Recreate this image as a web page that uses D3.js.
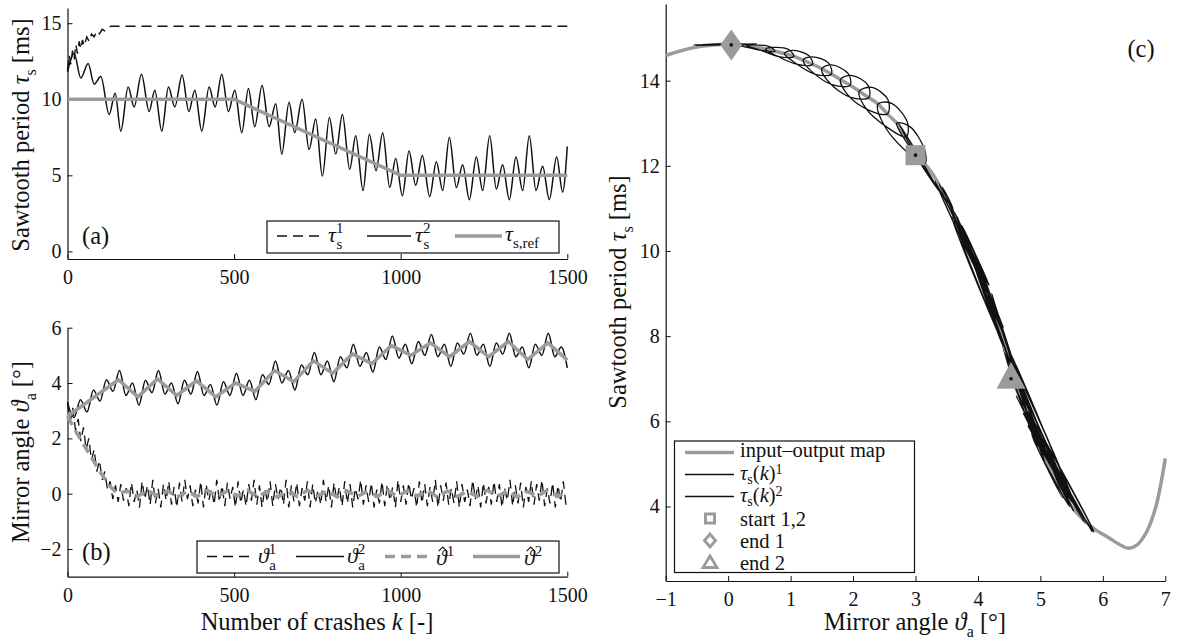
<!DOCTYPE html>
<html>
<head>
<meta charset="utf-8">
<script src="https://cdn.jsdelivr.net/npm/d3@7/dist/d3.min.js"></script>
<style>
  html, body { margin: 0; padding: 0; background: #fff; }
  svg { display: block; }
  svg text { font-family: "Liberation Serif", "DejaVu Serif", serif; }
</style>
</head>
<body>
<svg id="fig" width="1183" height="641"></svg>
<script>
// ---------- (a) sawtooth period vs. number of crashes ----------
const kTicks = [0, 500, 1000, 1500];
const tauTicksA = [0, 5, 10, 15];
const tau1K = [0, 5, 10, 15, 20, 25, 30, 35, 40, 45, 50, 58, 65, 72, 80, 88, 96, 104, 112, 120, 130, 1500];
const tau1V = [11.9, 12.9, 12.3, 13.2, 12.6, 13.6, 13.0, 13.8, 13.3, 13.9, 13.5, 14.1, 13.8, 14.3, 14.1, 14.5, 14.3, 14.6, 14.5, 14.7, 14.8, 14.8];
const tau2K = [0, 20, 40, 62, 80, 100, 125, 143, 160, 182, 200, 222, 245, 262, 283, 303, 322, 344, 364, 382,
  403, 425, 443, 463, 483, 502, 523, 543, 562, 584, 605, 625, 643, 665, 682, 704, 725, 745, 765, 786,
  805, 825, 847, 865, 887, 906, 926, 946, 967, 985, 1005, 1025, 1045, 1065, 1087, 1107, 1126, 1146, 1167, 1186,
  1206, 1227, 1246, 1267, 1287, 1306, 1326, 1346, 1366, 1386, 1406, 1426, 1446, 1468, 1486, 1500];
const tau2V = [11.8, 13.0, 11.4, 12.35, 11.0, 11.5, 9.0, 10.4, 7.9, 10.8, 9.5, 11.65, 9.2, 10.6, 7.9, 10.8, 9.5, 11.6, 9.2, 10.6,
  7.9, 10.8, 9.5, 11.65, 9.2, 10.6, 7.8, 10.7, 8.2, 10.9, 8.2, 9.7, 6.4, 9.8, 7.8, 10.0, 6.7, 8.7, 4.95, 8.8,
  6.4, 9.0, 5.4, 7.6, 4.0, 7.7, 5.3, 7.8, 4.2, 6.1, 3.65, 6.6, 4.35, 6.3, 3.6, 5.9, 4.0, 7.5, 4.2, 5.7,
  3.4, 6.2, 4.0, 7.6, 4.1, 5.7, 3.4, 6.2, 4.0, 7.6, 4.0, 5.6, 3.4, 6.2, 3.9, 6.9];
const tauRefK = [0, 500, 1000, 1500];
const tauRefV = [10, 10, 5, 5];

// ---------- (b) mirror angle vs. number of crashes ----------
const thetaTicksB = [-2, 0, 2, 4, 6];
const theta1Step = 8; // crashes between consecutive samples of theta1V
const theta1V = [3.3, 2.6, 3.1, 2.3, 2.7, 1.9, 2.4, 1.6, 2.0, 1.2, 1.6, 0.8, 1.2, 0.5, 0.8, 0.15, 0.45, -0.2, 0.3, -0.3,
  0.35, -0.25, 0.2, -0.45, 0.4, -0.3, 0.15, -0.5, 0.45, -0.2, 0.3, -0.4, 0.5, -0.35, 0.2, -0.5, 0.35, -0.25, 0.45, -0.4,
  0.25, -0.5, 0.4, -0.3, 0.5, -0.2, 0.3, -0.45, 0.15, -0.35, 0.45, -0.5, 0.35, -0.25, 0.2, -0.4, 0.5, -0.3, 0.3, -0.45,
  0.4, -0.2, 0.25, -0.5, 0.45, -0.35, 0.15, -0.45, 0.35, -0.25, 0.5, -0.4, 0.3, -0.5, 0.2, -0.3, 0.45, -0.45, 0.35, -0.2,
  0.25, -0.4, 0.5, -0.5, 0.3, -0.3, 0.4, -0.45, 0.2, -0.25, 0.45, -0.5, 0.35, -0.35, 0.15, -0.4, 0.5, -0.3, 0.3, -0.5,
  0.4, -0.25, 0.25, -0.45, 0.45, -0.35, 0.35, -0.5, 0.2, -0.2, 0.5, -0.4, 0.3, -0.3, 0.4, -0.5, 0.15, -0.35, 0.45, -0.45,
  0.35, -0.25, 0.25, -0.5, 0.5, -0.3, 0.3, -0.4, 0.4, -0.2, 0.2, -0.5, 0.45, -0.35, 0.35, -0.45, 0.25, -0.3, 0.5, -0.5,
  0.3, -0.25, 0.4, -0.4, 0.2, -0.35, 0.45, -0.5, 0.35, -0.3, 0.15, -0.45, 0.5, -0.2, 0.3, -0.5, 0.4, -0.35, 0.25, -0.4,
  0.45, -0.3, 0.35, -0.5, 0.2, -0.25, 0.5, -0.45,
  0.3, -0.35, 0.4, -0.5, 0.25, -0.3, 0.45, -0.4, 0.35, -0.25, 0.5, -0.45, 0.2, -0.35, 0.4, -0.5, 0.3, -0.3, 0.45, -0.4];
const theta2K = [0, 19.5, 39, 58.5, 78, 97.5, 117, 136.5, 156, 175.5, 195, 214.5, 234, 253.5, 273, 292.5, 312, 331.5, 351, 370.5,
  390, 409.5, 429, 448.5, 468, 487.5, 507, 526.5, 546, 565.5, 585, 604.5, 624, 643.5, 663, 682.5, 702, 721.5, 741, 760.5,
  780, 799.5, 819, 838.5, 858, 877.5, 897, 916.5, 936, 955.5, 975, 994.5, 1014, 1033.5, 1053, 1072.5, 1092, 1111.5, 1131, 1150.5,
  1170, 1189.5, 1209, 1228.5, 1248, 1267.5, 1287, 1306.5, 1326, 1345.5, 1365, 1384.5, 1404, 1423.5, 1443, 1462.5, 1482, 1500];
const theta2V = [3.3, 2.75, 3.4, 2.95, 3.75, 3.35, 4.12, 3.7, 4.45, 3.55, 4.0, 3.2, 4.1, 3.65, 4.45, 3.6, 4.0, 3.25, 4.1, 3.6,
  4.42, 3.55, 3.95, 3.2, 4.05, 3.55, 4.35, 3.55, 4.1, 3.4, 4.3, 3.95, 4.8, 4.0, 4.45, 3.75, 4.65, 4.3, 5.1, 4.3,
  4.8, 4.05, 4.95, 4.55, 5.4, 4.6, 5.1, 4.4, 5.3, 4.85, 5.7, 4.9, 5.4, 4.7, 5.5, 5.0, 5.75, 4.95, 5.4, 4.6,
  5.45, 5.05, 5.8, 5.0, 5.4, 4.6, 5.45, 5.05, 5.8, 4.95, 5.3, 4.55, 5.4, 5.0, 5.8, 4.95, 5.3, 4.55];
const hatTheta1K = [0, 25, 50, 75, 100, 125, 150, 180, 210, 240, 270, 300, 330, 360, 390, 420, 450, 480, 510, 540, 570,
  600, 630, 660, 690, 720, 750, 780, 810, 840, 870, 900, 930, 960, 990, 1020, 1050, 1080, 1110, 1140, 1170,
  1200, 1230, 1260, 1290, 1320, 1350, 1380, 1410, 1440, 1470, 1500];
const hatTheta1V = [2.8, 2.25, 1.75, 1.25, 0.75, 0.3, 0.0, 0.1, -0.1, 0.12, -0.08, 0.1, -0.12, 0.08, -0.1, 0.12, -0.1, 0.1, -0.08, 0.12, -0.1,
  0.08, -0.12, 0.1, -0.1, 0.12, -0.08, 0.1, -0.12, 0.1, -0.1, 0.08, -0.1, 0.12, -0.1, 0.1, -0.08, 0.12, -0.12, 0.1, -0.1,
  0.08, -0.1, 0.12, -0.1, 0.1, -0.12, 0.08, -0.1, 0.12, -0.1, 0.05];
const hatTheta2K = [0, 153, 211, 270, 328, 387, 445, 504, 562, 621, 679, 738, 796, 855, 913, 972, 1030, 1089, 1147, 1206, 1264, 1323, 1381, 1442, 1500];
const hatTheta2V = [2.8, 4.12, 3.5, 4.15, 3.55, 4.08, 3.5, 4.0, 3.7, 4.45, 4.05, 4.8, 4.35, 5.05, 4.7, 5.35, 5.0, 5.45, 4.95, 5.5, 4.95, 5.5, 4.85, 5.45, 4.83];

// ---------- (c) sawtooth period vs. mirror angle ----------
const thetaTicksC = [-1, 0, 1, 2, 3, 4, 5, 6, 7];
const tauTicksC = [4, 6, 8, 10, 12, 14];
const mapTheta = [-1, -0.6, -0.2, 0.05, 0.3, 0.5, 0.75, 1.0, 1.25, 1.5, 1.75, 2.0, 2.2, 2.4, 2.55, 2.7, 2.85, 3.0, 3.15, 3.3,
  3.6, 3.9, 4.1, 4.3, 4.45, 4.56, 4.7, 4.82, 5.0, 5.2, 5.4, 5.6, 5.84, 6.1, 6.3, 6.41, 6.55, 6.7, 6.85, 7.0];
const mapTau = [14.59, 14.76, 14.84, 14.86, 14.82, 14.78, 14.69, 14.6, 14.45, 14.28, 14.07, 13.85, 13.65, 13.45, 13.22, 13.0, 12.68, 12.35, 12.05, 11.75,
  10.9, 10.0, 9.3, 8.5, 7.7, 7.0, 6.45, 6.03, 5.35, 4.75, 4.2, 3.82, 3.5, 3.26, 3.08, 3.02, 3.1, 3.4, 4.0, 5.13];
// trajectory 1: looping band from the start towards end 1, then jitter around end 1
const traj1Theta = [3.0, 2.70, 2.91, 3.15, 3.15, 2.845, 2.48, 2.40, 2.61, 2.87, 2.85, 2.53, 2.20, 2.10, 2.30, 2.56, 2.55, 2.25, 1.92,
  1.80, 1.98, 2.24, 2.25, 1.965, 1.63, 1.50, 1.66, 1.925, 1.95, 1.68, 1.35, 1.20, 1.345, 1.61, 1.65, 1.395, 1.07,
  0.90, 1.03, 1.29, 1.35, 1.11, 0.78, 0.60, 0.71, 0.97, 1.05, 0.83, 0.49, 0.30, 0.405, 0.66, 0.75, 0.54, 0.20,
  0.05, -0.45, 0.4, -0.5, 0.45, -0.35, 0.3, -0.55, 0.35, 0.05];
const traj1Tau = [12.25, 13.00, 12.92, 12.36, 12.05, 12.35, 13.00, 13.45, 13.47, 13.02, 12.68, 12.92, 13.36, 13.75, 13.84, 13.55, 13.22, 13.31, 13.66,
  14.03, 14.12, 13.89, 13.60, 13.61, 13.94, 14.28, 14.37, 14.16, 13.89, 13.90, 14.20, 14.48, 14.56, 14.41, 14.15, 14.15, 14.42,
  14.64, 14.71, 14.59, 14.38, 14.38, 14.58, 14.74, 14.78, 14.73, 14.57, 14.56, 14.73, 14.82, 14.84, 14.80, 14.69, 14.71, 14.815,
  14.86, 14.84, 14.85, 14.83, 14.86, 14.84, 14.86, 14.84, 14.85, 14.85];
// trajectory 2: back and forth along the map, drifting towards end 2
const traj2Theta = [3.0, 2.73, 3.38, 2.95, 3.6, 3.43, 4.14, 3.72, 4.45, 3.66, 3.99, 3.31, 4.17, 3.74, 4.38, 3.58, 4.09, 3.37, 4.09, 3.66,
  4.46, 3.67, 4.0, 3.31, 4.18, 3.73, 4.4, 3.62, 4.41, 3.63, 4.32, 3.94, 4.76, 4.0, 4.39, 3.86, 4.69, 4.28, 5.09, 4.18,
  4.76, 4.22, 4.95, 4.43, 5.55, 4.48, 4.97, 4.39, 5.45, 4.84, 5.69, 4.61, 5.4, 4.77, 5.72, 4.8, 5.56, 4.51, 5.36, 4.86,
  5.85, 4.81, 5.47, 4.43, 5.5, 4.94, 5.83, 4.72, 5.56, 4.5, 5.47, 4.88, 5.86, 4.81, 5.53, 4.53];
const traj2Tau = [12.25, 13.0, 11.4, 12.35, 11.0, 11.5, 9.0, 10.4, 7.9, 10.8, 9.5, 11.65, 9.2, 10.6, 7.9, 10.8, 9.5, 11.6, 9.2, 10.6,
  7.9, 10.8, 9.5, 11.65, 9.2, 10.6, 7.8, 10.7, 8.2, 10.9, 8.2, 9.7, 6.4, 9.8, 7.8, 10.0, 6.7, 8.7, 4.95, 8.8,
  6.4, 9.0, 5.4, 7.6, 4.0, 7.7, 5.3, 7.8, 4.2, 6.1, 3.65, 6.6, 4.35, 6.3, 3.6, 5.9, 4.0, 7.5, 4.2, 5.7,
  3.4, 6.2, 4.0, 7.6, 4.1, 5.7, 3.4, 6.2, 4.0, 7.6, 4.0, 5.6, 3.4, 6.2, 3.9, 7.0];
const startPoint = [3.0, 12.25];
const end1Point = [0.05, 14.84];
const end2Point = [4.53, 7.0];

// ---------- drawing ----------
const FONT = "Liberation Serif, DejaVu Serif, serif";
const GRAY = "#9b9b9b";
const INK = "#111";
const TICK_PX = 20, LABEL_PX = 24.5, LEG_PX = 22, LEGC_PX = 20.5;
const svg = d3.select("#fig");
const zip = (a, b) => a.map((v, i) => [v, b[i]]);

const xA = d3.scaleLinear().domain([0, 1500]).range([67.5, 567.3]);
const yA = d3.scaleLinear().domain([-0.5, 16]).range([259, 8]);
const xB = xA.copy();
const yB = d3.scaleLinear().domain([-3, 6]).range([576.7, 327.7]);
const xC = d3.scaleLinear().domain([-1, 7]).range([665.7, 1165.3]);
const yC = d3.scaleLinear().domain([2.25, 15.8]).range([581, 4]);

function drawAxes(x, y, xt, yt) {
  const fmt = d3.format("d");
  const gx = svg.append("g").attr("transform", `translate(0,${y.range()[0]})`)
    .call(d3.axisBottom(x).tickValues(xt).tickSizeInner(-5).tickSizeOuter(0).tickPadding(11).tickFormat(fmt));
  const gy = svg.append("g").attr("transform", `translate(${x.range()[0]},0)`)
    .call(d3.axisLeft(y).tickValues(yt).tickSizeInner(-5).tickSizeOuter(0).tickPadding(6).tickFormat(fmt));
  [gx, gy].forEach(g => {
    g.attr("font-family", FONT).attr("font-size", TICK_PX);
    g.select(".domain").attr("stroke", INK).attr("stroke-width", 1.2);
    g.selectAll(".tick line").attr("stroke", INK).attr("stroke-width", 1);
    g.selectAll(".tick text").attr("fill", INK);
  });
}

// text with italic / subscript / superscript parts; a part with hat:true gets a circumflex
function richText(parent, parts, attrs, size, shifts) {
  const fs = size || LEG_PX;
  const sh = shifts || {sub: 0.3, sup: 0.42};
  const small = Math.round(fs * 0.66);
  const t = parent.append("text").attr("font-family", FONT).attr("font-size", fs).attr("fill", INK);
  Object.entries(attrs || {}).forEach(([k, v]) => t.attr(k, v));
  let cur = 0;
  const hats = [];
  let idx = 0;
  parts.forEach(p => {
    const s = t.append("tspan").text(p.t);
    if (p.i) s.attr("font-style", "italic");
    let target = 0;
    if (p.sub) { target = Math.round(fs * sh.sub); s.attr("font-size", small); }
    if (p.sup) { target = -Math.round(fs * sh.sup); s.attr("font-size", small); }
    if (target !== cur) s.attr("dy", target - cur);
    if (p.dx) s.attr("dx", p.dx);
    cur = target;
    if (p.hat) hats.push(idx);
    idx += p.t.length;
  });
  hats.forEach(ci => {
    const e = t.node().getExtentOfChar(ci);
    const hx = e.x + e.width * 0.62, hy = e.y + fs * 0.12;
    parent.append("path").attr("d", `M${hx - 4},${hy + 4}L${hx},${hy}L${hx + 4},${hy + 4}`)
      .attr("fill", "none").attr("stroke", INK).attr("stroke-width", 1.2);
  });
  return t;
}

function linePath(x, y, curve) {
  return d3.line().x(d => x(d[0])).y(d => y(d[1])).curve(curve || d3.curveLinear);
}

// ----- panel (a) -----
drawAxes(xA, yA, kTicks, tauTicksA);
const lA = linePath(xA, yA);
svg.append("path").attr("d", lA(zip(tau1K, tau1V))).attr("fill", "none")
  .attr("stroke", INK).attr("stroke-width", 1.4).attr("stroke-dasharray", "10,6");
svg.append("path").attr("d", linePath(xA, yA, d3.curveMonotoneX)(zip(tau2K, tau2V))).attr("fill", "none")
  .attr("stroke", INK).attr("stroke-width", 1.5);
svg.append("path").attr("d", lA(zip(tauRefK, tauRefV))).attr("fill", "none")
  .attr("stroke", GRAY).attr("stroke-width", 3.5);

richText(svg, [{t: "(a)"}], {x: 82, y: 244}, LABEL_PX);

// legend (a)
const legA = svg.append("g");
legA.append("rect").attr("x", 267).attr("y", 221).attr("width", 292).attr("height", 32)
  .attr("fill", "#fff").attr("stroke", INK).attr("stroke-width", 1.2);
const ly = 236;
legA.append("line").attr("x1", 277).attr("x2", 325).attr("y1", ly).attr("y2", ly)
  .attr("stroke", INK).attr("stroke-width", 1.4).attr("stroke-dasharray", "10,6");
richText(legA, [{t: "τ", i: true}, {t: "1", sup: true}, {t: "s", sub: true, dx: -7}], {x: 328, y: ly + 6});
legA.append("line").attr("x1", 367).attr("x2", 411).attr("y1", ly).attr("y2", ly)
  .attr("stroke", INK).attr("stroke-width", 1.5);
richText(legA, [{t: "τ", i: true}, {t: "2", sup: true}, {t: "s", sub: true, dx: -7}], {x: 415, y: ly + 6});
legA.append("line").attr("x1", 455).attr("x2", 502).attr("y1", ly).attr("y2", ly)
  .attr("stroke", GRAY).attr("stroke-width", 3.5);
richText(legA, [{t: "τ", i: true}, {t: "s,ref", sub: true}], {x: 505, y: ly + 5});

richText(svg, [{t: "Sawtooth period "}, {t: "τ", i: true}, {t: "s", sub: true}, {t: " [ms]"}],
  {"text-anchor": "middle", transform: "translate(29,135) rotate(-90)"}, LABEL_PX);

// ----- panel (b) -----
drawAxes(xB, yB, kTicks, thetaTicksB);
const lB = linePath(xB, yB);
svg.append("path").attr("d", lB(theta1V.map((v, i) => [i * theta1Step, v]))).attr("fill", "none")
  .attr("stroke", INK).attr("stroke-width", 1.3).attr("stroke-dasharray", "10,6");
svg.append("path").attr("d", linePath(xB, yB, d3.curveMonotoneX)(zip(theta2K, theta2V))).attr("fill", "none")
  .attr("stroke", INK).attr("stroke-width", 1.5);
svg.append("path").attr("d", lB(zip(hatTheta1K, hatTheta1V))).attr("fill", "none")
  .attr("stroke", GRAY).attr("stroke-width", 3.5).attr("stroke-dasharray", "10,6");
svg.append("path").attr("d", lB(zip(hatTheta2K, hatTheta2V))).attr("fill", "none")
  .attr("stroke", GRAY).attr("stroke-width", 3.5);

richText(svg, [{t: "(b)"}], {x: 82, y: 560}, LABEL_PX);

const legB = svg.append("g");
legB.append("rect").attr("x", 197).attr("y", 541).attr("width", 362).attr("height", 32)
  .attr("fill", "#fff").attr("stroke", INK).attr("stroke-width", 1.2);
const lyb = 556.5;
legB.append("line").attr("x1", 207).attr("x2", 255).attr("y1", lyb).attr("y2", lyb)
  .attr("stroke", INK).attr("stroke-width", 1.4).attr("stroke-dasharray", "10,6");
richText(legB, [{t: "ϑ", i: true}, {t: "1", sup: true}, {t: "a", sub: true, dx: -7}], {x: 258, y: lyb + 6});
legB.append("line").attr("x1", 296).attr("x2", 344).attr("y1", lyb).attr("y2", lyb)
  .attr("stroke", INK).attr("stroke-width", 1.5);
richText(legB, [{t: "ϑ", i: true}, {t: "2", sup: true}, {t: "a", sub: true, dx: -7}], {x: 347, y: lyb + 6});
legB.append("line").attr("x1", 385).attr("x2", 431).attr("y1", lyb).attr("y2", lyb)
  .attr("stroke", GRAY).attr("stroke-width", 3.5).attr("stroke-dasharray", "10,6");
richText(legB, [{t: "ϑ", i: true, hat: true}, {t: "1", sup: true}], {x: 436, y: lyb + 8});
legB.append("line").attr("x1", 473).attr("x2", 520).attr("y1", lyb).attr("y2", lyb)
  .attr("stroke", GRAY).attr("stroke-width", 3.5);
richText(legB, [{t: "ϑ", i: true, hat: true}, {t: "2", sup: true}], {x: 524, y: lyb + 8});

richText(svg, [{t: "Mirror angle "}, {t: "ϑ", i: true}, {t: "a", sub: true}, {t: " [°]"}],
  {"text-anchor": "middle", transform: "translate(29,452) rotate(-90)"}, LABEL_PX);
richText(svg, [{t: "Number of crashes "}, {t: "k", i: true}, {t: " [-]"}],
  {"text-anchor": "middle", x: 317, y: 630}, LABEL_PX);

// ----- panel (c) -----
drawAxes(xC, yC, thetaTicksC, tauTicksC);
svg.append("path").attr("d", linePath(xC, yC, d3.curveCatmullRom)(zip(mapTheta, mapTau))).attr("fill", "none")
  .attr("stroke", GRAY).attr("stroke-width", 3.5);
const lC = linePath(xC, yC, d3.curveCatmullRom.alpha(0.5));
svg.append("path").attr("d", lC(zip(traj1Theta, traj1Tau))).attr("fill", "none")
  .attr("stroke", INK).attr("stroke-width", 1.3);
svg.append("path").attr("d", lC(zip(traj2Theta, traj2Tau))).attr("fill", "none")
  .attr("stroke", INK).attr("stroke-width", 1.3);

function squareAt(g, cx, cy, h) {
  return g.append("rect").attr("x", cx - h).attr("y", cy - h).attr("width", 2 * h).attr("height", 2 * h);
}
function diamondAt(g, cx, cy, w, h) {
  return g.append("path").attr("d", `M${cx},${cy - h}L${cx + w},${cy}L${cx},${cy + h}L${cx - w},${cy}Z`);
}
function triangleAt(g, cx, cy, w, up, down) {
  return g.append("path").attr("d", `M${cx},${cy - up}L${cx + w},${cy + down}L${cx - w},${cy + down}Z`);
}
const mk = svg.append("g");
const sx = xC(startPoint[0]), sy = yC(startPoint[1]);
squareAt(mk, sx, sy, 10).attr("fill", GRAY);
const d1x = xC(end1Point[0]), d1y = yC(end1Point[1]);
diamondAt(mk, d1x, d1y, 11, 15.5).attr("fill", GRAY);
const t2x = xC(end2Point[0]), t2y = yC(end2Point[1]);
triangleAt(mk, t2x, t2y, 14.5, 17, 10).attr("fill", GRAY);
[[sx, sy], [d1x, d1y], [t2x, t2y]].forEach(([cx, cy]) =>
  mk.append("circle").attr("cx", cx).attr("cy", cy).attr("r", 1.8).attr("fill", INK));

richText(svg, [{t: "(c)"}], {x: 1141, y: 57, "text-anchor": "middle"}, LABEL_PX);

// legend (c)
const legC = svg.append("g");
legC.append("rect").attr("x", 674.5).attr("y", 441).attr("width", 240).attr("height", 131.5)
  .attr("fill", "#fff").attr("stroke", INK).attr("stroke-width", 1.2);
const rows = [452.5, 474.5, 496.5, 518.5, 540.5, 562.5];
const tight = {sub: 0.2, sup: 0.3};
legC.append("line").attr("x1", 685).attr("x2", 734).attr("y1", rows[0]).attr("y2", rows[0])
  .attr("stroke", GRAY).attr("stroke-width", 3.5);
richText(legC, [{t: "input–output map"}], {x: 740, y: rows[0] + 4.5}, LEGC_PX);
legC.append("line").attr("x1", 685).attr("x2", 734).attr("y1", rows[1]).attr("y2", rows[1])
  .attr("stroke", INK).attr("stroke-width", 1.5);
richText(legC, [{t: "τ", i: true}, {t: "s", sub: true}, {t: "("}, {t: "k", i: true}, {t: ")"}, {t: "1", sup: true}],
  {x: 740, y: rows[1] + 5.5}, LEGC_PX, tight);
legC.append("line").attr("x1", 685).attr("x2", 734).attr("y1", rows[2]).attr("y2", rows[2])
  .attr("stroke", INK).attr("stroke-width", 1.5);
richText(legC, [{t: "τ", i: true}, {t: "s", sub: true}, {t: "("}, {t: "k", i: true}, {t: ")"}, {t: "2", sup: true}],
  {x: 740, y: rows[2] + 5}, LEGC_PX, tight);
squareAt(legC, 710, rows[3], 4.5).attr("fill", "none").attr("stroke", GRAY).attr("stroke-width", 3);
richText(legC, [{t: "start 1,2"}], {x: 740, y: rows[3] + 7.5}, LEGC_PX);
diamondAt(legC, 710, rows[4], 5.5, 6.5).attr("fill", "none").attr("stroke", GRAY).attr("stroke-width", 2.8);
richText(legC, [{t: "end 1"}], {x: 740, y: rows[4] + 7}, LEGC_PX);
triangleAt(legC, 710, rows[5], 7, 6.5, 5).attr("fill", "none").attr("stroke", GRAY).attr("stroke-width", 2.8);
richText(legC, [{t: "end 2"}], {x: 740, y: rows[5] + 7}, LEGC_PX);

richText(svg, [{t: "Sawtooth period "}, {t: "τ", i: true}, {t: "s", sub: true}, {t: " [ms]"}],
  {"text-anchor": "middle", transform: "translate(626,292) rotate(-90)"}, LABEL_PX);
richText(svg, [{t: "Mirror angle "}, {t: "ϑ", i: true}, {t: "a", sub: true}, {t: " [°]"}],
  {"text-anchor": "middle", x: 915, y: 630}, LABEL_PX);
</script>
</body>
</html>
